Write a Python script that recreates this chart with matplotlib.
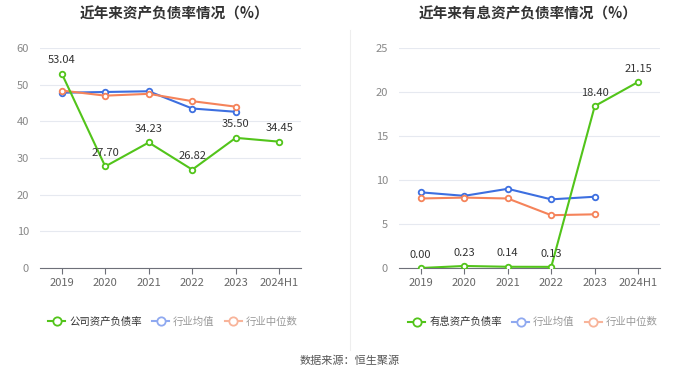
import matplotlib
matplotlib.use("Agg")
import matplotlib.pyplot as plt
from matplotlib.lines import Line2D

plt.rcParams['font.family'] = ['Noto Sans CJK SC', 'DejaVu Sans']

# data
years = ['2019', '2020', '2021', '2022', '2023', '2024H1']
debt_ratio = [53.04, 27.70, 34.23, 26.82, 35.50, 34.45]
debt_avg = [47.8, 48.0, 48.2, 43.5, 42.6]
debt_median = [48.4, 47.0, 47.5, 45.5, 44.0]

int_ratio = [0.00, 0.23, 0.14, 0.13, 18.40, 21.15]
int_avg = [8.6, 8.2, 9.0, 7.8, 8.1]
int_median = [7.9, 8.0, 7.9, 6.0, 6.1]

titles = ['近年来资产负债率情况（%）', '近年来有息资产负债率情况（%）']
main_names = ['公司资产负债率', '有息资产负债率']
ylims = [(0, 60, 10), (0, 25, 5)]

green = '#52c41a'
blue = '#3d6fe0'
orange = '#f5835a'

fig = plt.figure(figsize=(7, 3.78), dpi=100)

panels = [
    (debt_ratio, debt_avg, debt_median),
    (int_ratio, int_avg, int_median),
]
lefts = [40 / 700, 399 / 700]
title_x = [175 / 700, 528 / 700]
legend_x = [173 / 700, 533 / 700]

for i, (main, avg, med) in enumerate(panels):
    ax = fig.add_axes([lefts[i], 1 - 268 / 378, 261 / 700, 220 / 378])
    x = list(range(len(years)))
    ax.plot(x[:len(avg)], avg, color=blue, lw=1.5, marker='o', ms=4,
            mfc='white', mew=1.3, zorder=3)
    ax.plot(x[:len(med)], med, color=orange, lw=1.5, marker='o', ms=4,
            mfc='white', mew=1.3, zorder=3)
    ax.plot(x, main, color=green, lw=1.5, marker='o', ms=4,
            mfc='white', mew=1.3, zorder=4)
    for xi, v in zip(x, main):
        ax.annotate(f'{v:.2f}', (xi, v), xytext=(0, 6), textcoords='offset points',
                    ha='center', va='bottom', fontsize=8, color='#333333', zorder=5)
    lo, hi, step = ylims[i]
    ax.set_ylim(lo, hi)
    ax.set_yticks(range(lo, hi + 1, step))
    ax.set_xlim(-0.5, len(years) - 0.5)
    ax.set_xticks(x)
    ax.set_xticklabels(years)
    ax.grid(axis='y', color='#e6e9f0', lw=0.8)
    ax.set_axisbelow(True)
    for s in ['top', 'right', 'left']:
        ax.spines[s].set_visible(False)
    ax.spines['bottom'].set_color('#6e7079')
    ax.tick_params(axis='y', length=0, labelsize=8, labelcolor='#888888', pad=8)
    ax.tick_params(axis='x', length=4, color='#6e7079', labelsize=8,
                   labelcolor='#666666')
    fig.text(title_x[i], 1 - 13 / 378, titles[i],
             ha='center', va='center', fontsize=10.5, fontweight='bold', color='#333333')

    handles = [
        Line2D([], [], color=green, lw=1.5, marker='o', ms=6, mfc='white', mew=1.3),
        Line2D([], [], color='#8fa9f0', lw=1.5, marker='o', ms=6, mfc='white', mew=1.3),
        Line2D([], [], color='#f8b49a', lw=1.5, marker='o', ms=6, mfc='white', mew=1.3),
    ]
    labels = [main_names[i], '行业均值', '行业中位数']
    leg = fig.legend(handles, labels, loc='center',
                     bbox_to_anchor=(legend_x[i], 1 - 322 / 378),
                     ncol=3, frameon=False, fontsize=7.5, handlelength=1.6,
                     handletextpad=0.4, columnspacing=1.0)
    for j, t in enumerate(leg.get_texts()):
        t.set_color('#333333' if j == 0 else '#999999')

fig.add_artist(Line2D([350 / 700, 350 / 700], [1 - 30 / 378, 1 - 350 / 378],
                      color='#eeeeee', lw=0.8))
fig.text(0.5, 1 - 361 / 378, '数据来源：恒生聚源', ha='center', va='center',
         fontsize=8, color='#555555')

fig.savefig('out.png', dpi=100, facecolor='white')
